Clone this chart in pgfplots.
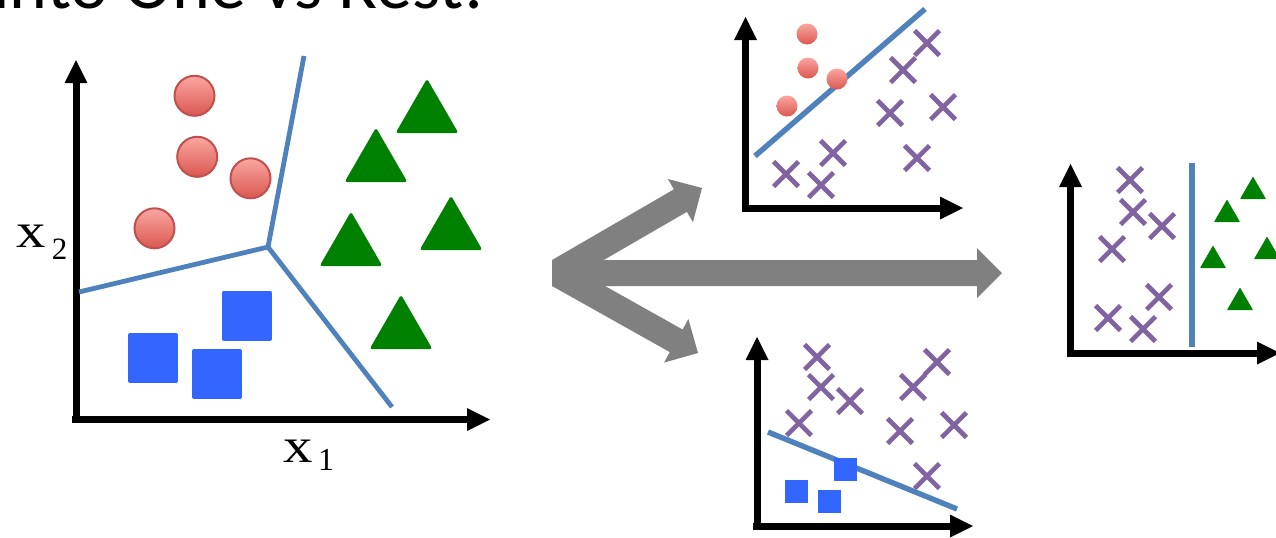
\documentclass[border=0pt]{standalone}
\usepackage{pgfplots}
\pgfplotsset{compat=1.18}
\usepackage{pgfplotstable}
\usepackage{fontspec}
\setmainfont{Liberation Serif}
\newfontfamily\titlefont{Carlito}
\usetikzlibrary{arrows.meta}
\definecolor{lineblue}{HTML}{4F81BD}
\definecolor{sqblue}{HTML}{3366FF}
\definecolor{trigreen}{HTML}{008000}
\definecolor{xpurple}{HTML}{8064A2}
\definecolor{arrgray}{HTML}{808080}
\definecolor{redtop}{HTML}{FBA6A0}
\definecolor{redbot}{HTML}{DA5850}
\definecolor{rededge}{HTML}{C0504D}
\pgfdeclareverticalshading{redgrad}{100bp}{color(0bp)=(redbot); color(25bp)=(redbot); color(75bp)=(redtop); color(100bp)=(redtop)}
\pgfdeclareplotmark{redball}{\pgfpathcircle{\pgfpointorigin}{\pgfplotmarksize}\pgfshadepath{redgrad}{0}\pgfusepathqstroke}
\pgfdeclareplotmark{redballnb}{\pgfpathcircle{\pgfpointorigin}{\pgfplotmarksize}\pgfshadepath{redgrad}{0}\pgfusepath{discard}}

% main plot (pixel coordinates, y downward)
\pgfplotstableread{
x y
194.5 95.8
197.2 156.8
250.5 178.3
154.5 228.3
}\mainred
\pgfplotstableread{
x y
153 358
247 315.5
217 374
}\mainsq
\pgfplotstableread{
x y
427 115
376 164
351 248
451 232
401 331
}\maintri
% top-middle plot
\pgfplotstableread{
x y
807 34
808 68
837 79
787 106
}\topred
\pgfplotstableread{
x y
927 43
903 70
890 113
943 107
917 158
833 153
786 174
821 185
}\topx
% bottom-middle plot
\pgfplotstableread{
x y
796 491.5
829 501
845 469
}\botsq
\pgfplotstableread{
x y
817 357
821 387
850 401
799 423
937 362
913 387
900 431
954 425
927 476
}\botx
% right plot
\pgfplotstableread{
x y
1130 180
1133 212
1162 226
1112 249
1159 297
1108 318
1143 329
}\rightx
\pgfplotstableread{
x y
1253 191.5
1227 214.5
1213 260.5
1267 251.5
1240 302.5
}\righttri

\begin{document}
\begin{tikzpicture}
\useasboundingbox (0,0) rectangle (638pt,268.5pt);
\clip (0,0) rectangle (638pt,268.5pt);
\begin{axis}[
  at={(0,0)}, anchor=south west,
  width=638pt, height=268.5pt, scale only axis,
  xmin=0, xmax=1276, ymin=0, ymax=537, y dir=reverse,
  hide axis, clip=false,
  axisline/.style={black, line width=3.5pt, -{Triangle[length=11.5pt,width=11.5pt,line width=0pt]}},
  xmark/.style={only marks, mark=x, mark size=8.8pt, mark options={draw=xpurple, line width=2.3pt}},
]
% ---------- gray arrows
\addplot[fill=arrgray, draw=none] coordinates {(552,260) (977,260) (977,248) (1002,273) (977,298) (977,286) (552,286)} -- cycle;
\addplot[fill=arrgray, draw=none] coordinates {(551.9,260.1) (673.9,189.35) (667.9,179.0) (702,188) (692.95,222.2) (686.9,211.85) (564.9,282.5)} -- cycle;
\addplot[fill=arrgray, draw=none] coordinates {(552.0,286.0) (669.8,352.1) (664.0,362.6) (698,353) (688.4,319.0) (682.6,329.5) (564.8,263.4)} -- cycle;

% ---------- main plot
\addplot[axisline] coordinates {(76,423) (76,60)};
\addplot[axisline] coordinates {(72,419.5) (490,419.5)};
\addplot[lineblue, line width=2.4pt] coordinates {(79,292) (268,247)};
\addplot[lineblue, line width=2.4pt] coordinates {(268,247) (304,56)};
\addplot[lineblue, line width=2.4pt] coordinates {(268,247) (392,407)};
\addplot[only marks, mark=redball, mark size=10pt, mark options={draw=rededge, line width=1pt}] table {\mainred};
\addplot[only marks, mark=square*, mark size=11.5pt, mark options={fill=sqblue, draw=sqblue, line width=2pt, line join=round}] table {\mainsq};
\addplot[only marks, mark=triangle*, mark size=16.7pt, mark options={fill=trigreen, draw=trigreen, line width=1.5pt, line join=round}] table {\maintri};
\node[anchor=base, inner sep=0, font=\fontsize{24.5}{28}\selectfont] at (axis cs:31,247) {\scalebox{1.2}[1]{x}};
\node[anchor=base, inner sep=0, font=\fontsize{15.5}{18}\selectfont] at (axis cs:59.5,259) {2};
\node[anchor=base, inner sep=0, font=\fontsize{24.5}{28}\selectfont] at (axis cs:298,462) {\scalebox{1.2}[1]{x}};
\node[anchor=base, inner sep=0, font=\fontsize{16}{18}\selectfont] at (axis cs:326,470) {1};
\node[anchor=base west, inner sep=0, font=\titlefont\fontsize{36}{40}\selectfont] at (axis cs:-7,8) {into One vs Rest:};

% ---------- top-middle plot
\addplot[axisline] coordinates {(745.5,211) (745.5,17)};
\addplot[axisline] coordinates {(742,208) (963,208)};
\addplot[only marks, mark=redballnb, mark size=5.25pt] table {\topred};
\addplot[xmark] table {\topx};
\addplot[lineblue, line width=2.7pt] coordinates {(755,156) (925,9)};

% ---------- bottom-middle plot
\addplot[axisline] coordinates {(757,527) (757,337)};
\addplot[axisline] coordinates {(753,526) (973,526)};
\addplot[only marks, mark=square*, mark size=5.5pt, mark options={fill=sqblue, draw=sqblue, line width=0.5pt}] table {\botsq};
\addplot[xmark] table {\botx};
\addplot[lineblue, line width=2.7pt] coordinates {(768,432) (957,509)};

% ---------- right plot
\addplot[axisline] coordinates {(1070.5,356) (1070.5,164)};
\addplot[axisline] coordinates {(1067,353) (1280,353)};
\addplot[xmark] table {\rightx};
\addplot[only marks, mark=triangle*, mark size=7pt, mark options={fill=trigreen, draw=trigreen, line width=0.5pt, line join=round}] table {\righttri};
\addplot[lineblue, line width=2.7pt] coordinates {(1192,163) (1192,347)};
\end{axis}
\end{tikzpicture}
\end{document}
